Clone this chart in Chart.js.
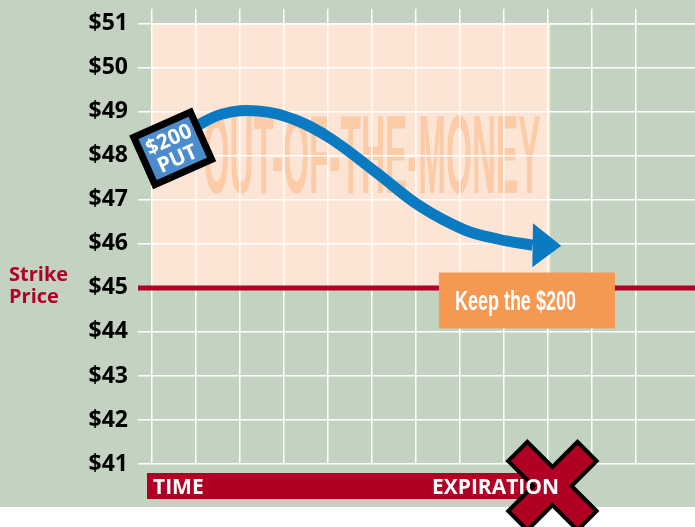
<!DOCTYPE html>
<html>
<head>
<meta charset="utf-8">
<script src="https://cdn.jsdelivr.net/npm/chart.js@4.4.1/dist/chart.umd.min.js"></script>
<style>
  html, body { margin: 0; padding: 0; background: #ffffff; }
  #wrap { width: 695px; height: 527px; position: relative; }
</style>
</head>
<body>
<div id="wrap"><canvas id="PutChart"></canvas></div>
<script>
// --- Data ---
const timeSteps  = [0.9, 1.6, 2.4, 3.25, 4.05, 5.1, 6.1, 7.1, 7.9, 8.65];
const stockPrice = [48.62, 48.95, 49.02, 48.82, 48.4, 47.62, 46.85, 46.32, 46.1, 45.97];
const arrowTip = [9.3, 45.96];
const priceMin = 41;
const priceMax = 51;
const strikePrice = 45;
const otmTime = [0, 9.05];
const otmPrice = [45, 51];
const expirationTime = 9.1;
const putLabel = ["$200", "PUT"];
const putLabelAt = [0.47, 48.17];
const keepLabel = "Keep the $200";
const keepBoxTime = [6.52, 10.52];
const keepBoxPrice = [45.35, 44.08];
const otmLabel = "OUT-OF-THE-MONEY";
const otmLabelAt = [5.0, 47.16];

const GREEN = "#c3d2c1";
const PINK = "#fde5d5";
const RED = "#b00024";
const BLUE = "#0a7ac2";

// draw text squeezed to a given width (condensed look)
function fitText(ctx, text, x, y, width, font, align) {
    ctx.save();
    ctx.font = font;
    const w = ctx.measureText(text).width;
    const s = width / w;
    ctx.translate(x, y);
    ctx.scale(s, 1);
    ctx.textAlign = align || "center";
    ctx.textBaseline = "alphabetic";
    ctx.fillText(text, 0, 0);
    ctx.restore();
}

const decorations = {
    id: "decorations",
    beforeDraw(chart) {
        const { ctx, chartArea, scales: { x, y } } = chart;
        ctx.save();
        ctx.fillStyle = GREEN;
        ctx.fillRect(0, 0, chart.width, chartArea.bottom + 43);
        // out-of-the-money zone
        const x0 = x.getPixelForValue(otmTime[0]), x1 = x.getPixelForValue(otmTime[1]);
        const y0 = y.getPixelForValue(otmPrice[1]), y1 = y.getPixelForValue(otmPrice[0]);
        ctx.fillStyle = PINK;
        ctx.fillRect(x0, y0, x1 - x0, y1 - y0);
        ctx.fillStyle = "#fccba8";
        fitText(ctx, otmLabel, x.getPixelForValue(otmLabelAt[0]), y.getPixelForValue(otmLabelAt[1]),
            337, "bold 112px 'Liberation Sans'");
        ctx.restore();
    },
    beforeDatasetsDraw(chart) {
        const { ctx, chartArea, scales: { x, y } } = chart;
        ctx.save();
        // strike line
        const sy = y.getPixelForValue(strikePrice);
        ctx.strokeStyle = RED;
        ctx.lineWidth = 5;
        ctx.beginPath();
        ctx.moveTo(chartArea.left - 14, sy);
        ctx.lineTo(chart.width, sy);
        ctx.stroke();
        ctx.fillStyle = RED;
        ctx.font = "bold 20px 'Open Sans'";
        ctx.textAlign = "left";
        ctx.fillText("Strike", 9, sy - 7);
        ctx.fillText("Price", 9, sy + 15);
        // keep box
        const bx0 = x.getPixelForValue(keepBoxTime[0]), bx1 = x.getPixelForValue(keepBoxTime[1]);
        const by0 = y.getPixelForValue(keepBoxPrice[0]), by1 = y.getPixelForValue(keepBoxPrice[1]);
        ctx.fillStyle = "#f59852";
        ctx.fillRect(bx0, by0, bx1 - bx0, by1 - by0);
        ctx.fillStyle = "#ffffff";
        fitText(ctx, keepLabel, bx0 + 16, by0 + 37, 121, "bold 27px 'Liberation Sans'", "left");
        ctx.restore();
    },
    afterDatasetsDraw(chart) {
        const { ctx, scales: { x, y } } = chart;
        ctx.save();
        // arrow head at the end of the curve
        const n = timeSteps.length - 1;
        const bx = x.getPixelForValue(timeSteps[n]), by = y.getPixelForValue(stockPrice[n]);
        const tx = x.getPixelForValue(arrowTip[0]), ty = y.getPixelForValue(arrowTip[1]);
        const len = Math.hypot(tx - bx, ty - by);
        const px = -(ty - by) / len * 22, py = (tx - bx) / len * 22;
        ctx.fillStyle = BLUE;
        ctx.beginPath();
        ctx.moveTo(tx, ty);
        ctx.lineTo(bx + px, by + py);
        ctx.lineTo(bx - px, by - py);
        ctx.closePath();
        ctx.fill();
        // $200 PUT tag
        ctx.translate(x.getPixelForValue(putLabelAt[0]), y.getPixelForValue(putLabelAt[1]));
        ctx.rotate(-24 * Math.PI / 180);
        ctx.fillStyle = "#000000";
        ctx.fillRect(-34.5, -29.5, 69, 59);
        ctx.fillStyle = "#4c8ccc";
        ctx.fillRect(-27.5, -22.5, 55, 45);
        ctx.fillStyle = "#ffffff";
        ctx.textAlign = "center";
        ctx.font = "bold 21px 'Open Sans'";
        ctx.fillText(putLabel[0], 0, -3);
        ctx.fillText(putLabel[1], 0, 18);
        ctx.restore();
    },
    afterDraw(chart) {
        const { ctx, chartArea, scales: { x } } = chart;
        ctx.save();
        const top = chartArea.bottom + 9;
        const ex = x.getPixelForValue(expirationTime);
        ctx.fillStyle = RED;
        ctx.fillRect(chartArea.left - 5, top, ex - chartArea.left + 12, 26);
        // expiration cross
        const cy = chartArea.bottom + 22;
        const L = 94, W = 23;
        ctx.translate(ex, cy);
        [45, -45].forEach(a => {
            ctx.save();
            ctx.rotate(a * Math.PI / 180);
            ctx.fillStyle = "#000000";
            ctx.fillRect(-L / 2 - 4, -W / 2 - 4, L + 8, W + 8);
            ctx.restore();
        });
        [45, -45].forEach(a => {
            ctx.save();
            ctx.rotate(a * Math.PI / 180);
            ctx.fillStyle = RED;
            ctx.fillRect(-L / 2, -W / 2, L, W);
            ctx.restore();
        });
        ctx.setTransform(1, 0, 0, 1, 0, 0);
        ctx.fillStyle = "#ffffff";
        ctx.font = "bold 21px 'Open Sans'";
        ctx.textAlign = "left";
        ctx.fillText("TIME", chartArea.left + 1, top + 21);
        fitText(ctx, "EXPIRATION", 432, top + 21, 127, "bold 21px 'Open Sans'", "left");
        ctx.restore();
    }
};

const onlyWhole = scale => { scale.ticks = scale.ticks.filter(t => Number.isInteger(t.value)); };

new Chart(document.getElementById("PutChart"), {
    type: "line",
    data: {
        datasets: [{
            data: timeSteps.map((t, i) => ({ x: t, y: stockPrice[i] })),
            borderColor: BLUE,
            borderWidth: 11,
            borderCapStyle: "butt",
            tension: 0.4,
            pointRadius: 0,
            fill: false,
            clip: false
        }]
    },
    options: {
        responsive: true,
        maintainAspectRatio: false,
        animation: false,
        events: [],
        layout: { padding: { top: 0, right: 0, bottom: 63, left: 0 } },
        plugins: { legend: { display: false }, tooltip: { enabled: false } },
        scales: {
            x: {
                type: "linear",
                position: "top",
                min: 0,
                max: 12.34,
                afterBuildTicks: onlyWhole,
                afterFit: s => { s.height = 22; },
                ticks: { stepSize: 1, display: false },
                grid: { color: "#ffffff", lineWidth: 1.5, tickLength: 15 },
                border: { color: "#ffffff", width: 1.5 }
            },
            y: {
                min: priceMin,
                max: priceMax,
                afterBuildTicks: onlyWhole,
                afterFit: s => { s.width = 152; },
                ticks: {
                    stepSize: 1,
                    padding: 10,
                    color: "#000000",
                    font: { family: "'Open Sans'", size: 23, weight: "bold" },
                    callback: v => "$" + v
                },
                grid: { color: "#ffffff", lineWidth: 1.5, tickLength: 14 },
                border: { display: false }
            }
        }
    },
    plugins: [decorations]
});
</script>
</body>
</html>
